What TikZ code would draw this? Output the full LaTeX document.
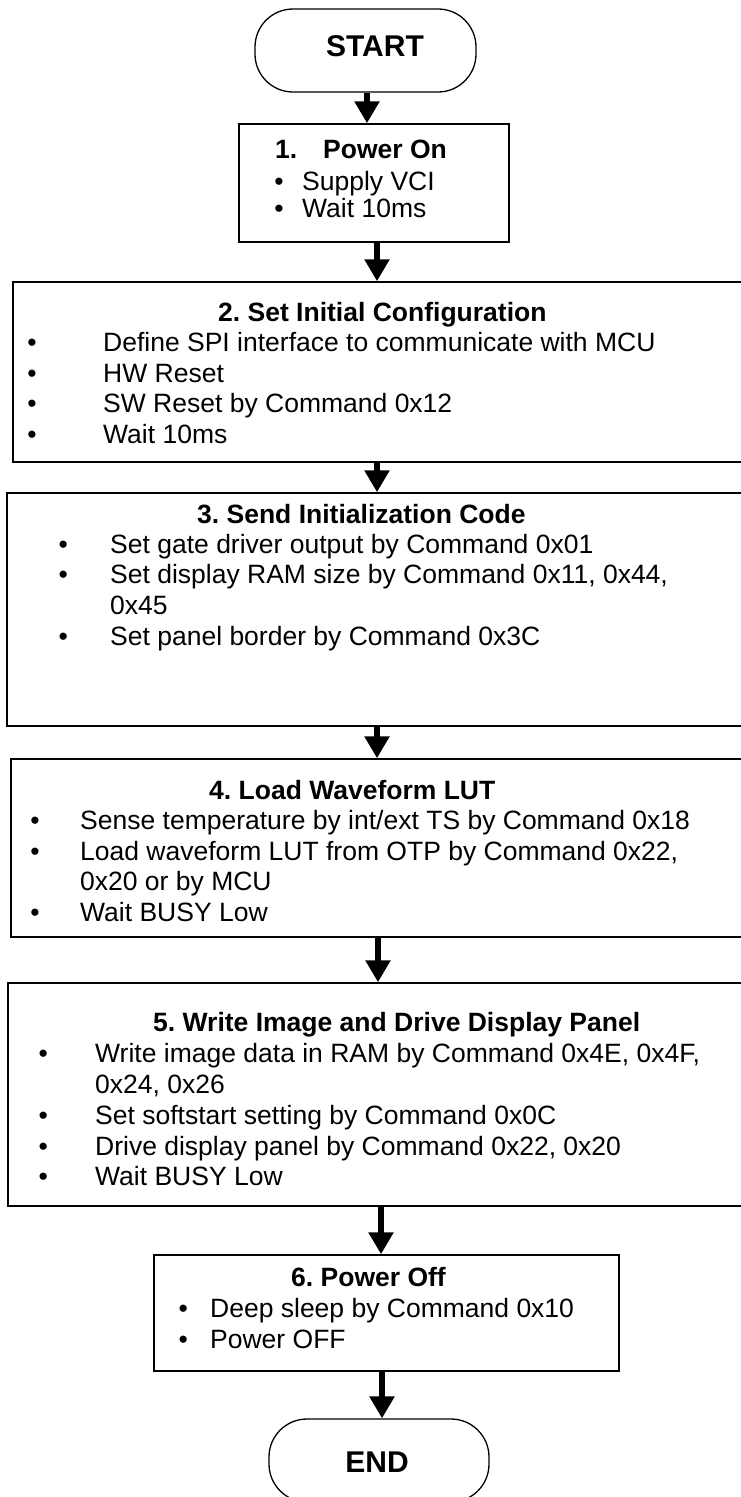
\documentclass[tikz,border=0pt]{standalone}
\usepackage{fontspec}
\setmainfont{Liberation Sans}
\usetikzlibrary{arrows.meta}
\frenchspacing
\begin{document}
\begin{tikzpicture}[x=1pt,y=-1pt,
  box/.style={draw, line width=1.5pt, rectangle, inner sep=0pt},
  term/.style={draw, line width=1.3pt, rectangle, rounded corners=38pt, inner sep=0pt, minimum width=221pt, minimum height=83pt},
  termtxt/.style={anchor=base, inner sep=0pt, font=\fontsize{30pt}{34pt}\selectfont\bfseries},
  txt/.style={anchor=base west, inner sep=0pt, font=\fontsize{26.5pt}{30pt}\selectfont},
  ttl/.style={anchor=base west, inner sep=0pt, font=\fontsize{26.5pt}{30pt}\selectfont\bfseries},
  bul/.style={anchor=base, inner sep=0pt, font=\fontsize{26.5pt}{30pt}\selectfont},
  arr/.style={line width=6pt, -{Triangle[width=24pt,length=22pt]}},
]
\useasboundingbox (0,0) rectangle (741,1497);
\fill[white] (0,0) rectangle (741,1497);
\clip (0,0) rectangle (741,1497);

% terminals
\node[term] (start) at (365.5,50.5) {};
\node[termtxt] (startlbl) at (375,56.7) {START};
\node[term, minimum width=220pt] (end) at (379,1460.5) {};
\node[termtxt] (endlbl) at (377,1472.7) {END};

% boxes
\node[box, minimum width=270pt, minimum height=118pt] (b1) at (374,183) {};
\node[box, minimum width=787pt, minimum height=180pt] (b2) at (406.5,372) {};
\node[box, minimum width=793pt, minimum height=233pt] (b3) at (403.5,609.5) {};
\node[box, minimum width=789pt, minimum height=178pt] (b4) at (405.5,848) {};
\node[box, minimum width=792pt, minimum height=223pt] (b5) at (404,1094.5) {};
\node[box, minimum width=465pt, minimum height=116pt] (b6) at (386.5,1313) {};

% box 1
\node[ttl] (t1) at (275,158) {1.\hspace{25.9pt}Power On};
\node[bul] (u1a) at (279,190) {•};
\node[txt] (l1a) at (302,190) {Supply VCI};
\node[bul] (u1b) at (279,217) {•};
\node[txt] (l1b) at (302,217) {Wait 10ms};

% box 2
\node[ttl] (t2) at (218,321) {2. Set Initial Configuration};
\node[bul] (u2a) at (32,351.5) {•};
\node[txt] (l2a) at (103,351.5) {Define SPI interface to communicate with MCU};
\node[bul] (u2b) at (32,382) {•};
\node[txt] (l2b) at (103,382) {HW Reset};
\node[bul] (u2c) at (32,412.5) {•};
\node[txt] (l2c) at (103,412.5) {SW Reset by Command 0x12};
\node[bul] (u2d) at (32,443) {•};
\node[txt] (l2d) at (103,443) {Wait 10ms};

% box 3
\node[ttl] (t3) at (197,523) {3. Send Initialization Code};
\node[bul] (u3a) at (63.3,553) {•};
\node[txt] (l3a) at (110,553) {Set gate driver output by Command 0x01};
\node[bul] (u3b) at (63.3,583.5) {•};
\node[txt] (l3b) at (110,583.5) {Set display RAM size by Command 0x11, 0x44,};
\node[txt] (l3c) at (110,614) {0x45};
\node[bul] (u3d) at (63.3,645) {•};
\node[txt] (l3d) at (110,645) {Set panel border by Command 0x3C};

% box 4
\node[ttl] (t4) at (209,799.5) {4. Load Waveform LUT};
\node[bul] (u4a) at (35,829.5) {•};
\node[txt] (l4a) at (80,829.5) {Sense temperature by int/ext TS by Command 0x18};
\node[bul] (u4b) at (35,860) {•};
\node[txt] (l4b) at (80,860) {Load waveform LUT from OTP by Command 0x22,};
\node[txt] (l4c) at (80,890.5) {0x20 or by MCU};
\node[bul] (u4d) at (35,921) {•};
\node[txt] (l4d) at (80,921) {Wait BUSY Low};

% box 5
\node[ttl] (t5) at (153,1031.5) {5. Write Image and Drive Display Panel};
\node[bul] (u5a) at (43.3,1062) {•};
\node[txt] (l5a) at (95,1062) {Write image data in RAM by Command 0x4E, 0x4F,};
\node[txt] (l5b) at (95,1093.5) {0x24, 0x26};
\node[bul] (u5c) at (43.3,1124.5) {•};
\node[txt] (l5c) at (95,1124.5) {Set softstart setting by Command 0x0C};
\node[bul] (u5d) at (43.3,1155) {•};
\node[txt] (l5d) at (95,1155) {Drive display panel by Command 0x22, 0x20};
\node[bul] (u5e) at (43.3,1185.5) {•};
\node[txt] (l5e) at (95,1185.5) {Wait BUSY Low};

% box 6
\node[ttl] (t6) at (291,1286) {6. Power Off};
\node[bul] (u6a) at (183.3,1317) {•};
\node[txt] (l6a) at (210,1317) {Deep sleep by Command 0x10};
\node[bul] (u6b) at (183.3,1348) {•};
\node[txt] (l6b) at (210,1348) {Power OFF};

% arrow columns
\coordinate (x1) at (367,0);
\coordinate (x2) at (377,0);
\coordinate (x3) at (377,0);
\coordinate (x4) at (377,0);
\coordinate (x5) at (378,0);
\coordinate (x6) at (381,0);
\coordinate (x7) at (382,0);

\draw[arr] (x1 |- start.south) -- (x1 |- b1.north);
\draw[arr] (x2 |- b1.south) -- (x2 |- b2.north);
\draw[arr] (x3 |- b2.south) -- (x3 |- b3.north);
\draw[arr] (x4 |- b3.south) -- (x4 |- b4.north);
\draw[arr] (x5 |- b4.south) -- (x5 |- b5.north);
\draw[arr] (x6 |- b5.south) -- (x6 |- b6.north);
\draw[arr] (x7 |- b6.south) -- (x7 |- end.north);
\end{tikzpicture}
\end{document}
